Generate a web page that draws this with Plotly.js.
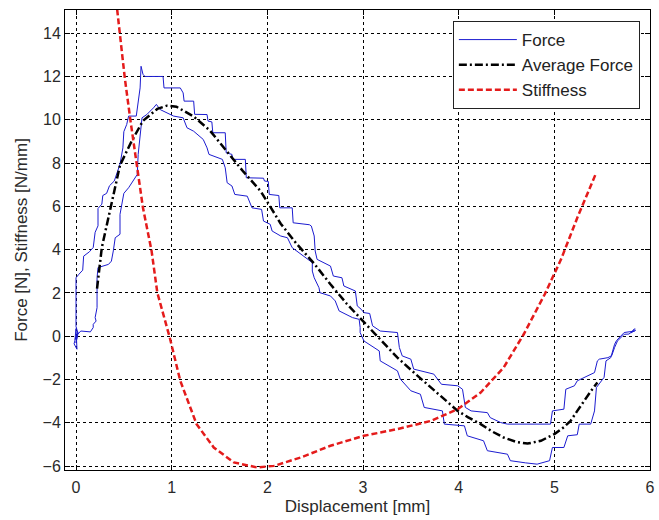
<!DOCTYPE html>
<html>
<head>
<meta charset="utf-8">
<script src="https://cdn.plot.ly/plotly-3.0.1.min.js"></script>
<style>html,body{margin:0;padding:0;background:#fff;}#chart{width:659px;height:520px;}</style>
</head>
<body>
<div id="chart"></div>
<script>
// Force (hysteresis loop, traced as one path)
const forceX = [0.00,-0.02,0.01,0.00,-0.01,0.02,0.00,0.00,0.03,0.07,0.08,0.14,0.18,0.20,0.23,0.23,0.27,0.28,0.32,0.35,0.40,0.43,0.46,0.49,0.50,0.53,0.55,0.63,0.65,0.67,0.68,
0.70,0.72,0.91,0.92,1.09,1.12,1.13,1.23,1.24,1.37,1.38,1.42,1.43,1.56,1.57,1.63,1.64,1.77,1.78,1.96,1.97,2.01,2.02,2.12,2.13,2.26,2.27,2.44,2.46,2.49,2.50,2.52,2.66,2.69,2.78,2.80,2.92,2.94,2.98,3.01,3.07,3.10,3.18,3.36,3.38,3.41,3.50,3.53,3.74,3.82,3.99,4.04,4.06,4.07,4.13,4.30,4.33,4.44,4.51,4.96,
4.98,5.10,5.12,5.21,5.24,5.35,5.42,5.45,5.47,5.56,5.60,5.63,5.66,5.73,5.78,5.82,5.84,5.80,5.85,
5.84,5.73,5.65,5.63,5.59,5.54,5.52,5.44,5.42,5.38,5.26,5.24,5.14,5.10,4.98,4.95,4.82,4.70,4.54,4.51,4.30,4.26,4.09,4.06,3.85,3.83,3.64,3.60,3.50,3.39,3.36,3.18,3.17,3.01,2.97,2.97,2.96,2.89,2.75,2.71,2.66,2.55,2.54,2.49,2.47,2.47,2.35,2.26,2.21,2.14,2.05,2.03,1.96,1.94,1.84,1.79,1.66,1.63,1.58,1.56,1.53,1.39,1.37,1.33,1.23,1.16,1.12,1.02,0.88,0.84,0.81,0.74,0.69,0.67,0.65,0.64,0.60,0.55,0.50,0.48,0.46,0.46,0.41,0.39,0.37,0.34,0.23,0.22,0.22,0.20,0.21,0.18,0.18,0.15,0.05,0.02,0.00,0.02];
const forceY = [0.00,-0.35,-0.60,0.35,-0.15,0.15,0.45,2.70,2.86,3.05,3.70,3.90,4.10,4.80,5.10,5.90,6.10,6.50,6.60,6.95,7.17,7.60,7.95,8.70,9.45,9.78,10.17,10.17,10.86,11.47,12.47,
12.10,12.00,12.00,11.47,11.47,11.24,10.86,10.86,10.25,10.24,9.94,9.90,9.40,9.40,8.47,8.40,8.17,8.17,7.32,7.30,7.17,7.15,6.55,6.50,5.93,5.93,5.24,5.15,5.09,4.63,3.94,3.55,3.24,2.78,2.70,2.32,2.09,1.40,1.25,1.09,1.05,0.48,0.24,0.17,-0.52,-0.91,-1.06,-1.52,-1.75,-2.22,-2.29,-2.45,-2.91,-3.29,-3.45,-3.53,-3.76,-3.99,-4.06,-4.06,
-3.45,-3.37,-2.45,-2.29,-2.06,-1.83,-1.68,-1.14,-1.06,-0.99,-0.90,-0.52,-0.22,0.09,0.10,0.24,0.35,0.15,0.28,
0.24,0.17,-0.20,-0.37,-0.99,-1.14,-1.90,-2.37,-3.45,-4.06,-4.06,-4.55,-4.60,-5.14,-5.14,-5.75,-5.91,-5.85,-5.75,-5.45,-5.29,-4.83,-4.60,-4.14,-4.06,-3.45,-3.29,-2.68,-2.52,-1.98,-1.60,-1.14,-0.68,-0.22,0.17,0.40,0.78,0.86,1.17,1.63,1.86,2.01,2.24,2.70,3.01,3.40,3.78,4.09,4.55,4.63,4.86,5.17,5.32,5.86,5.93,6.47,6.55,6.94,7.09,7.78,8.17,8.40,8.70,9.09,9.47,9.63,10.09,10.17,10.47,10.71,10.55,10.24,10.09,9.32,8.40,7.47,7.17,6.86,6.60,6.09,5.63,4.71,4.55,3.94,3.47,3.32,3.17,2.70,1.32,0.86,0.70,0.55,0.40,0.20,0.24,0.10,-0.30,0.20];

// Average force
const avgX = [0.22,0.24,0.27,0.32,0.36,0.41,0.46,0.58,0.70,0.85,0.95,1.05,1.23,1.40,1.58,1.75,1.93,2.14,2.30,2.49,2.66,2.83,3.01,3.20,3.36,3.55,3.71,3.85,3.99,4.10,4.23,4.35,4.47,4.60,4.72,4.86,5.00,5.10,5.17,5.24,5.31,5.38,5.45];
const avgY = [2.2,3.0,4.1,5.1,5.9,6.85,7.9,9.0,9.95,10.5,10.65,10.6,10.15,9.5,8.5,7.6,6.7,5.2,4.3,3.35,2.4,1.5,0.65,-0.25,-0.99,-1.75,-2.37,-2.95,-3.45,-3.75,-4.06,-4.4,-4.68,-4.88,-4.96,-4.83,-4.52,-4.2,-3.91,-3.45,-2.99,-2.55,-2.14];

// Stiffness
const stiffX = [0.43,0.46,0.51,0.57,0.64,0.70,0.79,0.85,0.98,1.09,1.26,1.44,1.65,1.89,2.07,2.35,2.66,3.01,3.36,3.71,3.99,4.23,4.47,4.68,4.90,5.07,5.24,5.43];
const stiffY = [15.1,13.94,11.93,9.94,7.78,5.93,3.94,2.01,-0.06,-2.06,-4.06,-5.14,-5.83,-6.06,-5.99,-5.60,-5.06,-4.60,-4.29,-3.91,-3.37,-2.60,-1.45,0.09,1.94,3.55,5.47,7.47];

const xTicks = [0,1,2,3,4,5,6];
const yTicks = [-6,-4,-2,0,2,4,6,8,10,12,14];

const FONT = 'Liberation Sans, Arial, sans-serif';

const traces = [
  {x: forceX, y: forceY, mode: 'lines', name: 'Force', legendgroup: 'a',
   line: {color: '#1c1cd0', width: 1}},
  {x: avgX, y: avgY, mode: 'lines', name: 'Average Force', legendgroup: 'b',
   line: {color: '#000000', width: 2.5, dash: '8px,3px,2px,3px'}},
  {x: stiffX, y: stiffY, mode: 'lines', name: 'Stiffness', legendgroup: 'c',
   line: {color: '#e41b1b', width: 2.5, dash: '6px,3px'}}
];

const axisCommon = {
  showline: true, linecolor: '#000', linewidth: 1, mirror: 'ticks',
  ticks: 'inside', ticklen: 5, tickcolor: '#000',
  showgrid: true, gridcolor: '#000', gridwidth: 1, griddash: '3px,3px',
  zeroline: false,
  tickfont: {family: FONT, size: 16, color: '#2a2a2a'}
};

const layout = {
  width: 659, height: 520,
  margin: {l: 65, r: 9, t: 10, b: 50},
  paper_bgcolor: '#fff', plot_bgcolor: '#fff',
  showlegend: true,
  xaxis: Object.assign({}, axisCommon, {
    range: [-0.115, 6], tickvals: xTicks, ticklabelstandoff: 3,
    title: {text: 'Displacement [mm]', standoff: 4,
      font: {family: FONT, size: 17, color: '#2a2a2a'}}
  }),
  yaxis: Object.assign({}, axisCommon, {
    range: [-6.18, 15.07], tickvals: yTicks,
    title: {text: 'Force [N], Stiffness [N/mm]', standoff: 10,
      font: {family: FONT, size: 17, color: '#2a2a2a'}}
  }),
  legend: {
    x: 0.663, y: 0.976, xanchor: 'left', yanchor: 'top',
    bgcolor: '#fff', bordercolor: '#222', borderwidth: 1,
    font: {family: FONT, size: 17, color: '#222'},
    tracegroupgap: 0, itemwidth: 58
  }
};

Plotly.newPlot('chart', traces, layout, {displayModeBar: false, staticPlot: true});
</script>
</body>
</html>
